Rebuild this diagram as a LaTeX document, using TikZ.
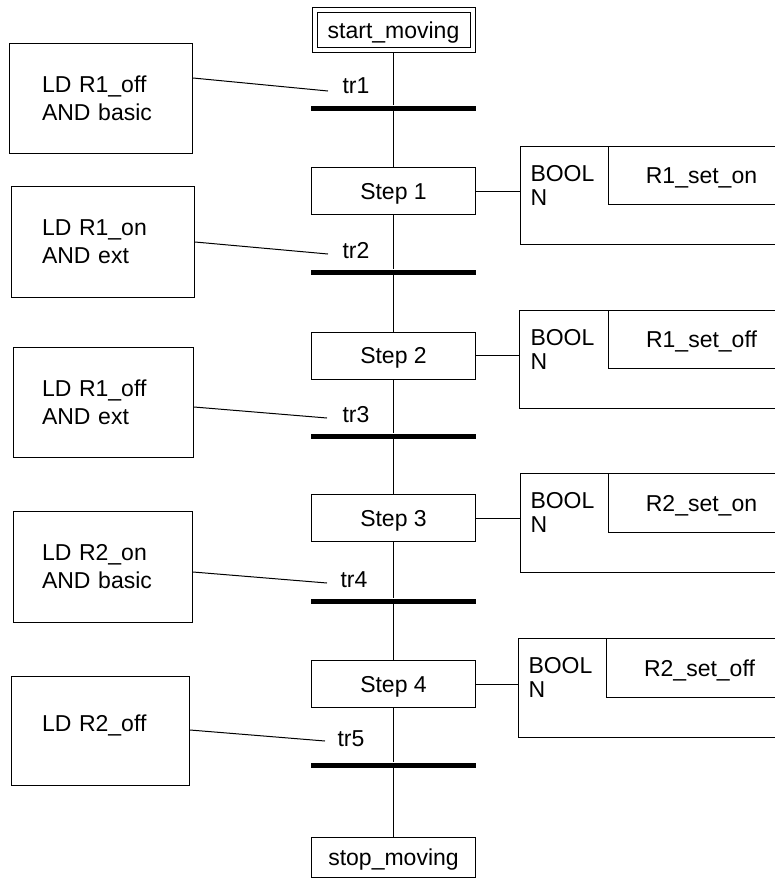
\documentclass[tikz,border=0pt]{standalone}
\usepackage{fontspec}
\setmainfont{Liberation Sans}
\begin{document}
\begin{tikzpicture}[x=1pt,y=-1pt,line width=1pt,
  base/.style={font=\fontsize{23}{28}\selectfont,inner sep=0pt},
  startbox/.style={base,draw,double,double distance=4pt,minimum width=158pt,minimum height=40pt,text depth=0pt},
  stepbox/.style={base,draw,minimum width=164pt,minimum height=47pt,text depth=0pt},
  bar/.style={fill=black,draw=none,minimum width=165pt,minimum height=5pt,inner sep=0pt},
  ldbox/.style={base,draw,align=left,anchor=north west},
  trlabel/.style={base,anchor=base west},
  actbox/.style={draw,minimum width=300pt,anchor=north west,inner sep=0pt},
  actname/.style={base,draw,minimum width=186pt,anchor=north west,text depth=0pt},
  qual/.style={base,font=\fontsize{23}{24}\selectfont,align=left,anchor=north west}]
\useasboundingbox (0,0) rectangle (775,884);
\clip (0,0) rectangle (775,884);

% sequence
\node[startbox] (start) at (393.5,30) {start\_moving};
\node[bar] (b1) at (393.5,108) {};
\node[stepbox] (s1) at (393.5,191) {Step 1};
\node[bar] (b2) at (393.5,272) {};
\node[stepbox] (s2) at (393.5,355.5) {Step 2};
\node[bar] (b3) at (393.5,436) {};
\node[stepbox] (s3) at (393.5,518) {Step 3};
\node[bar] (b4) at (393.5,601) {};
\node[stepbox] (s4) at (393.5,684) {Step 4};
\node[bar] (b5) at (393.5,765) {};
\node[stepbox,minimum height=40pt] (stop) at (393.5,857) {stop\_moving};

\draw ([yshift=-2.5pt]start.south) -- (b1);
\draw (b1) -- (s1) -- (b2) -- (s2) -- (b3) -- (s3) -- (b4) -- (s4) -- (b5) -- (stop);

% transition labels
\node[trlabel] (t1) at (342,93) {tr1};
\node[trlabel] (t2) at (342,258) {tr2};
\node[trlabel] (t3) at (342,422) {tr3};
\node[trlabel] (t4) at (340,587) {tr4};
\node[trlabel] (t5) at (337,746) {tr5};

% conditions
\node[ldbox,inner xsep=32.5pt,text width=118pt,minimum height=110pt] (ld1) at (9,43) {LD R1\_off\\AND basic};
\node[ldbox,inner xsep=30.5pt,text width=122pt,minimum height=111pt] (ld2) at (11,186) {LD R1\_on\\AND ext};
\node[ldbox,inner xsep=28.5pt,text width=123pt,minimum height=110pt] (ld3) at (13,347) {LD R1\_off\\AND ext};
\node[ldbox,inner xsep=28.5pt,text width=122pt,minimum height=111pt] (ld4) at (13,511) {LD R2\_on\\AND basic};
\node[ldbox,inner xsep=30.5pt,text width=117pt,minimum height=109pt,text depth=16pt] (ld5) at (11,676) {LD R2\_off};

\coordinate (c1) at (328,91);
\coordinate (c2) at (328,254);
\coordinate (c3) at (327,418);
\coordinate (c4) at (327,583);
\coordinate (c5) at (325,741);
\draw ([yshift=-35pt]ld1.north east) -- (c1);
\draw ([yshift=-56pt]ld2.north east) -- (c2);
\draw ([yshift=-60pt]ld3.north east) -- (c3);
\draw ([yshift=-61pt]ld4.north east) -- (c4);
\draw ([yshift=-54pt]ld5.north east) -- (c5);

% actions
\node[actbox,minimum height=98pt] (a1) at (520,146) {};
\node[actname,minimum height=58pt] (n1) at (608,146) {R1\_set\_on};
\node[qual] (q1) at (530,165) {BOOL\\N};
\node[actbox,minimum height=98pt] (a2) at (519,310) {};
\node[actname,minimum height=58pt] (n2) at (608,310) {R1\_set\_off};
\node[qual] (q2) at (530,329) {BOOL\\N};
\node[actbox,minimum height=99pt] (a3) at (520,473) {};
\node[actname,minimum height=59pt] (n3) at (608,473) {R2\_set\_on};
\node[qual] (q3) at (530,492) {BOOL\\N};
\node[actbox,minimum height=99pt] (a4) at (518,638) {};
\node[actname,minimum height=59pt] (n4) at (606,638) {R2\_set\_off};
\node[qual] (q4) at (528,657) {BOOL\\N};

\draw (s1.east) -- (s1.east -| a1.west);
\draw (s2.east) -- (s2.east -| a2.west);
\draw (s3.east) -- (s3.east -| a3.west);
\draw (s4.east) -- (s4.east -| a4.west);
\end{tikzpicture}
\end{document}
